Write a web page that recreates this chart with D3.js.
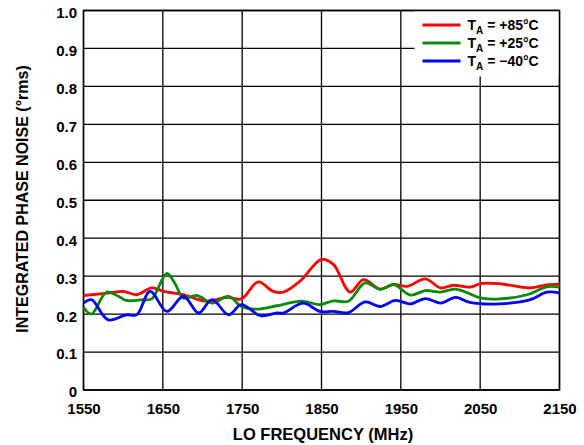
<!DOCTYPE html>
<html>
<head>
<meta charset="utf-8">
<script src="https://cdn.jsdelivr.net/npm/d3@7"></script>
<style>
  body { margin: 0; background: #fff; }
  text { font-family: "Liberation Sans", Arial, sans-serif; font-weight: bold; }
</style>
</head>
<body>
<div id="chart"></div>
<script>
// values
var xTicks = [1550, 1650, 1750, 1850, 1950, 2050, 2150];
var yTicks = [0, 0.1, 0.2, 0.3, 0.4, 0.5, 0.6, 0.7, 0.8, 0.9, 1.0];

var freq85 = [1550, 1583, 1600, 1617, 1636, 1651, 1676, 1705, 1731, 1749, 1770, 1789, 1802, 1823, 1850, 1865, 1886, 1903, 1924, 1941, 1958, 1981, 2000, 2016, 2037, 2052, 2075, 2113, 2134, 2150];
var noise85 = [0.249, 0.256, 0.26, 0.251, 0.269, 0.26, 0.251, 0.234, 0.244, 0.24, 0.285, 0.26, 0.258, 0.287, 0.344, 0.331, 0.258, 0.291, 0.266, 0.278, 0.273, 0.293, 0.269, 0.276, 0.271, 0.281, 0.28, 0.269, 0.277, 0.279];

var freq25 = [1550, 1560, 1579, 1594, 1604, 1625, 1636, 1655, 1665, 1676, 1693, 1712, 1733, 1749, 1768, 1794, 1825, 1848, 1865, 1884, 1905, 1924, 1941, 1962, 1981, 2000, 2019, 2052, 2075, 2109, 2134, 2150];
var noise25 = [0.218, 0.2, 0.258, 0.247, 0.236, 0.238, 0.24, 0.307, 0.282, 0.242, 0.249, 0.229, 0.247, 0.22, 0.213, 0.222, 0.234, 0.225, 0.235, 0.234, 0.282, 0.265, 0.278, 0.25, 0.262, 0.258, 0.266, 0.242, 0.24, 0.251, 0.272, 0.271];

var freqM40 = [1550, 1560, 1581, 1604, 1617, 1634, 1655, 1676, 1695, 1712, 1733, 1749, 1773, 1794, 1802, 1827, 1848, 1865, 1884, 1905, 1924, 1943, 1962, 1981, 2000, 2019, 2037, 2075, 2113, 2134, 2150];
var noiseM40 = [0.229, 0.238, 0.185, 0.198, 0.198, 0.26, 0.207, 0.247, 0.203, 0.238, 0.198, 0.225, 0.196, 0.203, 0.203, 0.229, 0.207, 0.207, 0.204, 0.232, 0.22, 0.236, 0.227, 0.241, 0.229, 0.244, 0.231, 0.227, 0.238, 0.258, 0.256];

var seriesNames = ["+85°C", "+25°C", "\u221240°C"];
var seriesColors = ["#ff0000", "#0a8a0a", "#0000ff"];

var series = [
    {name: seriesNames[0], color: seriesColors[0], x: freq85, y: noise85},
    {name: seriesNames[1], color: seriesColors[1], x: freq25, y: noise25},
    {name: seriesNames[2], color: seriesColors[2], x: freqM40, y: noiseM40}
];

const width = 584, height = 445;
const margin = {top: 10.5, right: 24.5, bottom: 55, left: 83.5};
var innerWidth = width - margin.left - margin.right;
var innerHeight = height - margin.top - margin.bottom;

var xScale = d3.scaleLinear().domain([1550, 2150]).range([0, innerWidth]);
var yScale = d3.scaleLinear().domain([0, 1]).range([innerHeight, 0]);

var svg = d3.select("#chart").append("svg")
    .attr("width", width)
    .attr("height", height);

var g = svg.append("g")
    .attr("transform", "translate(" + margin.left + "," + margin.top + ")");

// grid
g.append("g").selectAll("line")
    .data(yTicks)
    .enter().append("line")
    .attr("x1", 0).attr("x2", innerWidth)
    .attr("y1", d => yScale(d)).attr("y2", d => yScale(d))
    .attr("stroke", "#000").attr("stroke-width", 1.3);

g.append("g").selectAll("line")
    .data(xTicks)
    .enter().append("line")
    .attr("x1", d => xScale(d)).attr("x2", d => xScale(d))
    .attr("y1", 0).attr("y2", innerHeight)
    .attr("stroke", "#000").attr("stroke-width", 1.3);

// legend background hides the grid behind it
g.append("rect")
    .attr("x", 331).attr("y", 0)
    .attr("width", innerWidth - 331).attr("height", 66)
    .attr("fill", "#fff");

g.append("rect")
    .attr("width", innerWidth).attr("height", innerHeight)
    .attr("fill", "none").attr("stroke", "#000").attr("stroke-width", 1.5);

// axes (labels only)
var xAxis = d3.axisBottom(xScale).tickValues(xTicks).tickSize(0).tickFormat(d3.format("d"));
var yAxis = d3.axisLeft(yScale).tickValues(yTicks).tickSize(0)
    .tickFormat(d => d === 0 ? "0" : d3.format(".1f")(d));

g.append("g")
    .attr("transform", "translate(0," + innerHeight + ")")
    .call(xAxis)
    .call(a => a.select(".domain").remove())
    .selectAll("text")
    .attr("y", 24).attr("dy", 0)
    .attr("font-size", 15).attr("font-family", null).attr("fill", "#000");

g.append("g")
    .call(yAxis)
    .call(a => a.select(".domain").remove())
    .selectAll("text")
    .attr("x", -6.5).attr("dy", "0.46em")
    .attr("font-size", 15).attr("font-family", null).attr("fill", "#000");

// curves
var line = d3.line()
    .x(d => xScale(d[0]))
    .y(d => yScale(d[1]))
    .curve(d3.curveCatmullRom.alpha(0.5));

series.forEach(function(s) {
    g.append("path")
        .datum(s.x.map((f, i) => [f, s.y[i]]))
        .attr("fill", "none")
        .attr("stroke", s.color)
        .attr("stroke-width", 2.8)
        .attr("stroke-linejoin", "round")
        .attr("d", line);
});

// legend
var legend = g.append("g").attr("transform", "translate(339,0)");
series.forEach(function(s, i) {
    var y = 14.5 + i * 18;
    legend.append("line")
        .attr("x1", 0).attr("x2", 38)
        .attr("y1", y).attr("y2", y)
        .attr("stroke", s.color).attr("stroke-width", 3);
    var t = legend.append("text")
        .attr("x", 45).attr("y", y + 5)
        .attr("font-size", 14);
    t.append("tspan").text("T");
    t.append("tspan").attr("font-size", 10).attr("dy", 4).text("A");
    t.append("tspan").attr("dy", -4).text(" = " + s.name);
});

// axis titles
svg.append("text")
    .attr("x", 323)
    .attr("y", 440)
    .attr("text-anchor", "middle")
    .attr("font-size", 16.5)
    .text("LO FREQUENCY (MHz)");

svg.append("text")
    .attr("transform", "translate(28,199) rotate(-90)")
    .attr("text-anchor", "middle")
    .attr("font-size", 16)
    .text("INTEGRATED PHASE NOISE (°rms)");
</script>
</body>
</html>
